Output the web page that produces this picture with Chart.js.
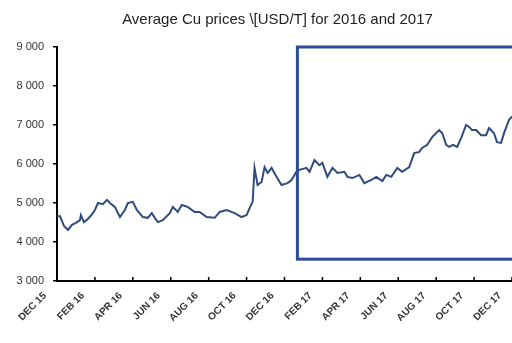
<!DOCTYPE html>
<html>
<head>
<meta charset="utf-8">
<title>Average Cu prices</title>
<script src="https://cdn.jsdelivr.net/npm/chart.js@4.4.1/dist/chart.umd.min.js"></script>
<style>
  html, body { margin: 0; padding: 0; background: #fff; }
  #wrap { width: 512px; height: 343px; }
</style>
</head>
<body>
<div id="wrap"><canvas id="cu" width="512" height="343"></canvas></div>
<script>
// Months counted from Dec 2015 (0) to Dec 2017 (24)
const months = [
  0.00, 0.16, 0.37, 0.58, 0.79, 1.00, 1.21, 1.26, 1.42, 1.63, 1.84, 2.00,
  2.16, 2.42, 2.63, 2.79, 3.05, 3.32, 3.58, 3.74, 4.00, 4.21, 4.53, 4.79,
  5.00, 5.16, 5.32, 5.58, 5.95, 6.11, 6.37, 6.58, 6.89, 7.26, 7.53, 7.89,
  8.32, 8.58, 8.95, 9.37, 9.74, 10.00, 10.16, 10.32, 10.42, 10.58, 10.79, 10.95,
  11.11, 11.32, 11.58, 11.84, 12.16, 12.37, 12.63, 12.79, 13.16, 13.32, 13.58, 13.84,
  14.00, 14.26, 14.53, 14.79, 15.16, 15.32, 15.58, 15.95, 16.21, 16.58, 16.84, 17.16,
  17.37, 17.63, 17.95, 18.21, 18.58, 18.84, 19.11, 19.26, 19.53, 19.79, 20.16, 20.32,
  20.53, 20.68, 20.89, 21.11, 21.32, 21.58, 21.74, 21.89, 22.11, 22.37, 22.63, 22.79,
  23.05, 23.21, 23.42, 23.58, 23.84, 24.00
];

// Average Cu price, USD per tonne
const prices = [
  4670, 4660, 4410, 4310, 4440, 4490, 4560, 4690, 4510, 4590, 4710, 4820,
  5000, 4970, 5080, 5000, 4900, 4640, 4820, 5000, 5030, 4820, 4640, 4620,
  4740, 4620, 4510, 4560, 4740, 4900, 4770, 4950, 4900, 4770, 4770, 4640,
  4620, 4770, 4820, 4740, 4640, 4690, 4870, 5030, 5900, 5460, 5540, 5920,
  5770, 5900, 5670, 5460, 5510, 5590, 5800, 5850, 5900, 5800, 6100, 5970,
  6030, 5670, 5900, 5770, 5800, 5670, 5640, 5720, 5510, 5590, 5670, 5560,
  5720, 5670, 5900, 5800, 5920, 6280, 6310, 6410, 6490, 6690, 6870, 6790,
  6490, 6440, 6490, 6440, 6670, 7000, 6950, 6870, 6870, 6740, 6740, 6920,
  6790, 6560, 6540, 6790, 7130, 7220
];

const tickLabels = [
  'DEC 15', 'FEB 16', 'APR 16', 'JUN 16', 'AUG 16', 'OCT 16', 'DEC 16',
  'FEB 17', 'APR 17', 'JUN 17', 'AUG 17', 'OCT 17', 'DEC 17'
];

// highlighted 2017 window (months / USD)
const boxStart = 12.68;
const boxEnd = 24.3;
const boxLow = 3560;
const boxHigh = 9000;

const titleText = 'Average Cu prices \\[USD/T] for 2016 and 2017';

const fmt = v => String(v).replace(/\B(?=(\d{3})+(?!\d))/g, ' ');

// title centred a little left of the plot centre
const titlePlugin = {
  id: 'cuTitle',
  afterDraw(chart) {
    const { ctx, chartArea } = chart;
    ctx.save();
    ctx.font = '15px Arial, "Liberation Sans", sans-serif';
    ctx.fillStyle = '#222';
    ctx.textAlign = 'center';
    ctx.textBaseline = 'middle';
    ctx.fillText(titleText, (chartArea.left + chartArea.right) / 2 - 7, 20);
    ctx.restore();
  }
};

// blue frame around 2017 and inward tick marks on the x axis
const framePlugin = {
  id: 'frame',
  afterDatasetsDraw(chart) {
    const { ctx, scales: { x, y } } = chart;
    ctx.save();
    ctx.strokeStyle = '#2b4c9b';
    ctx.lineWidth = 3;
    const x0 = x.getPixelForValue(boxStart);
    const x1 = x.getPixelForValue(boxEnd);
    const y0 = y.getPixelForValue(boxHigh);
    const y1 = y.getPixelForValue(boxLow);
    ctx.strokeRect(x0, y0, x1 - x0, y1 - y0);

    ctx.strokeStyle = '#000';
    ctx.lineWidth = 1.5;
    ctx.beginPath();
    x.ticks.forEach(t => {
      const px = x.getPixelForValue(t.value);
      ctx.moveTo(px, y.bottom);
      ctx.lineTo(px, y.bottom - 4);
    });
    ctx.stroke();
    ctx.restore();
  }
};

new Chart(document.getElementById('cu'), {
  type: 'line',
  data: {
    datasets: [{
      data: months.map((m, i) => ({ x: m, y: prices[i] })),
      borderColor: '#2e4b7f',
      borderWidth: 2,
      pointRadius: 0,
      tension: 0,
      fill: false
    }]
  },
  options: {
    responsive: false,
    animation: false,
    layout: { padding: { top: 47, right: 0, left: 0, bottom: 0 } },
    plugins: {
      legend: { display: false },
      tooltip: { enabled: false },
      title: { display: false }
    },
    scales: {
      x: {
        type: 'linear',
        min: 0,
        max: 24,
        afterFit: s => {
          s.height = 62;
          s.paddingLeft = 0;
          s.paddingRight = 0;
        },
        afterBuildTicks: s => {
          s.ticks = tickLabels.map((_, i) => ({ value: i * 2 }));
        },
        border: { display: true, color: '#000', width: 2 },
        grid: { display: true, drawOnChartArea: false, drawTicks: false },
        ticks: {
          autoSkip: false,
          minRotation: 45,
          maxRotation: 45,
          labelOffset: -12,
          padding: 9,
          color: '#333',
          font: { family: 'Arial, "Liberation Sans", sans-serif', size: 10, weight: 'bold' },
          callback: v => tickLabels[Math.round(v / 2)]
        }
      },
      y: {
        min: 3000,
        max: 9000,
        afterFit: s => { s.width = 57; },
        border: { display: true, color: '#000', width: 2 },
        grid: { drawOnChartArea: false, drawTicks: true, tickLength: 4, color: '#000', lineWidth: 1.5 },
        ticks: {
          stepSize: 1000,
          padding: 9,
          color: '#333',
          font: { family: 'Arial, "Liberation Sans", sans-serif', size: 11 },
          callback: v => fmt(v)
        }
      }
    }
  },
  plugins: [titlePlugin, framePlugin]
});
</script>
</body>
</html>
